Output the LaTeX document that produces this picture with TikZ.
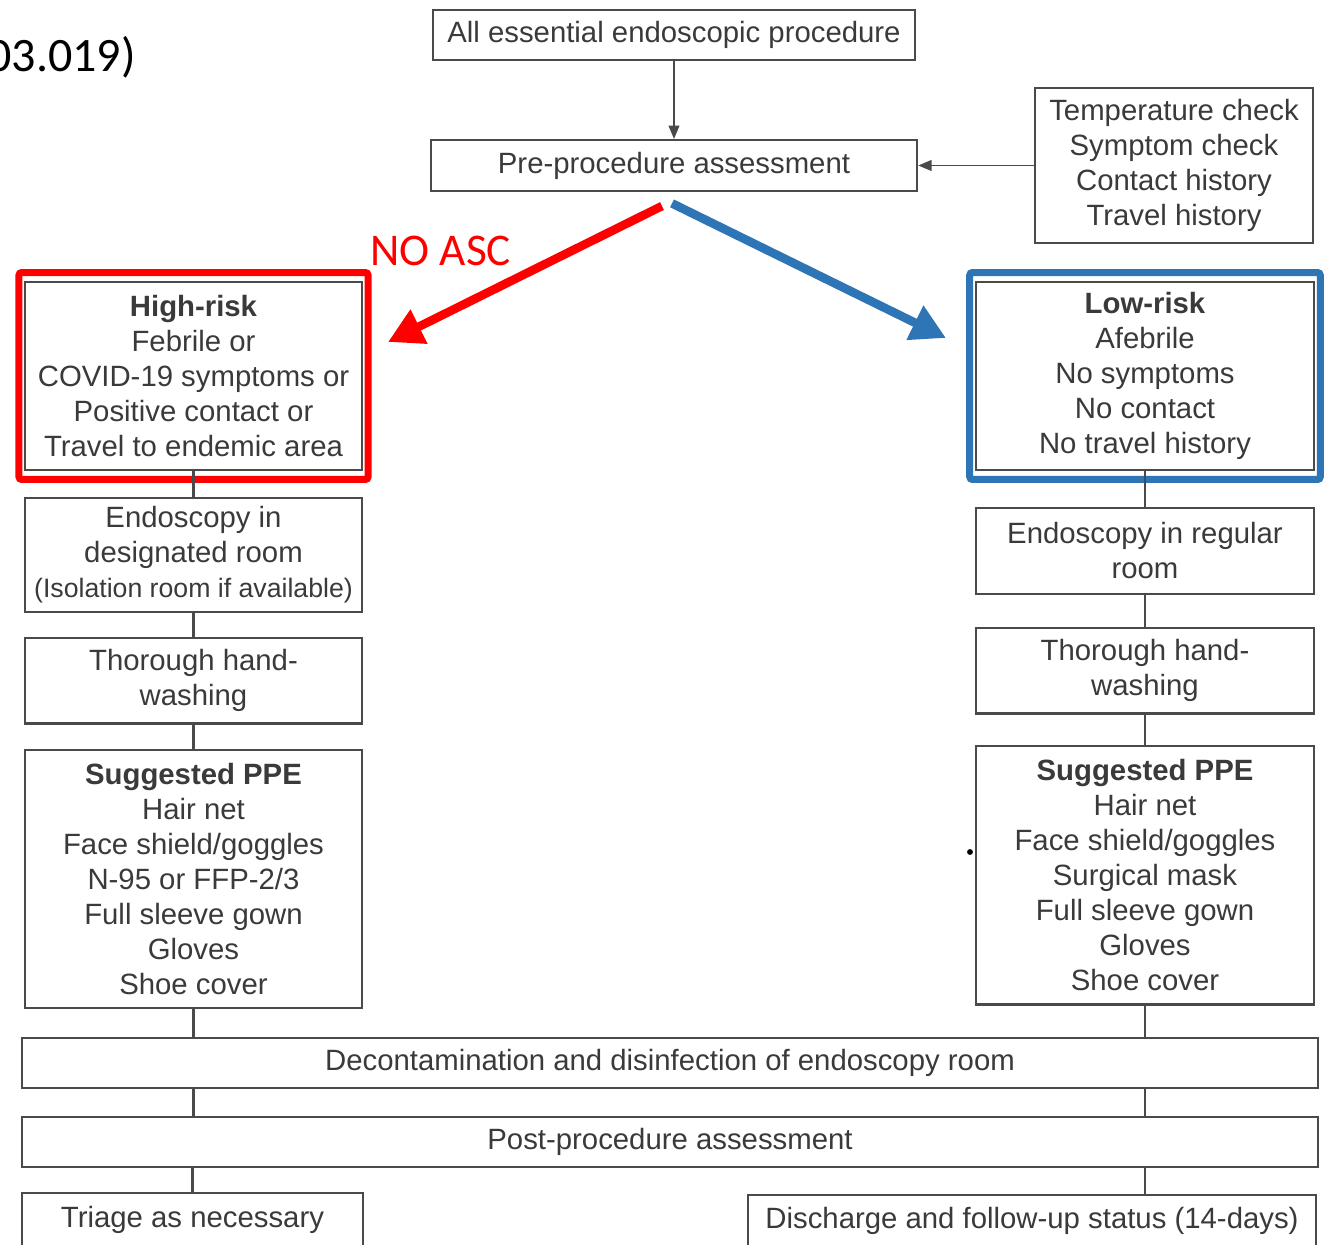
\documentclass[tikz,border=0pt]{standalone}
\usepackage{fontspec}
\setmainfont{Liberation Sans}
\newfontfamily\calibri{Carlito}
\usetikzlibrary{arrows.meta, positioning, calc, fit}
\definecolor{boxline}{HTML}{4A4A4A}
\definecolor{boxtext}{HTML}{3A3A3A}
\definecolor{riskred}{HTML}{FF0000}
\definecolor{riskblue}{HTML}{2E75B6}

\begin{document}
\begin{tikzpicture}[
    x=0.75pt, y=-0.75pt,
    box/.style={rectangle, draw=boxline, line width=1.8pt, align=center, text=boxtext, inner sep=0pt, font=\fontsize{22}{26.25}\selectfont},
    link/.style={draw=boxline, line width=1.6pt},
    arrow/.style={-{Triangle[length=10pt,width=8pt]}, draw=boxline, line width=1.4pt},
    riskframe/.style={draw, line width=5.25pt, rounded corners=2pt, inner sep=0pt},
    forkarrow/.style={line width=6.5pt, -{Triangle[length=26pt,width=27pt]}}
]
    \useasboundingbox (0,0) rectangle (1332,1245);
    \fill[white] (0,0) rectangle (1332,1245);

    % Top level
    \node[font=\calibri\fontsize{36}{40}\selectfont, anchor=base east, inner sep=0pt] (doitail) at (136,72) {03.019)};
    \node[box, minimum width=361.5pt, minimum height=37.5pt] (allproc) at (674,35) {All essential endoscopic procedure};
    \node[box, minimum width=364.5pt, minimum height=38pt] (preproc) at (674,165.5) {Pre-procedure assessment};
    \node[box, minimum width=208.5pt, minimum height=116pt] (checks) at (1174,165.5) {Temperature check\\Symptom check\\Contact history\\Travel history};

    % High-risk branch
    \node[box, minimum width=253pt, minimum height=141pt] (highrisk) at (193.5,376) {\textbf{High-risk}\\Febrile or\\COVID-19 symptoms or\\Positive contact or\\Travel to endemic area};
    \node[box, below=19.2pt of highrisk, minimum width=253pt, minimum height=85.5pt] (desigroom) {Endoscopy in\\designated room\\{\fontsize{20}{24}\selectfont (Isolation room if available)}};
    \node[box, below=17.7pt of desigroom, minimum width=253pt, minimum height=64pt] (lwash) {Thorough hand-\\washing};
    \node[box, below=18.2pt of lwash, minimum width=253pt, minimum height=193.5pt] (lppe) {\textbf{Suggested PPE}\\Hair net\\Face shield/goggles\\N-95 or FFP-2/3\\Full sleeve gown\\Gloves\\Shoe cover};

    % Low-risk branch
    \node[box, minimum width=253.5pt, minimum height=141pt] (lowrisk) at (1145,376) {\textbf{Low-risk}\\Afebrile\\No symptoms\\No contact\\No travel history};
    \node[box, below=26.7pt of lowrisk, minimum width=253.5pt, minimum height=64.5pt] (regroom) {Endoscopy in regular\\room};
    \node[box, below=23.7pt of regroom, minimum width=253.5pt, minimum height=64pt] (rwash) {Thorough hand-\\washing};
    \node[box, below=22.7pt of rwash, minimum width=253.5pt, minimum height=194pt] (rppe) {\textbf{Suggested PPE}\\Hair net\\Face shield/goggles\\Surgical mask\\Full sleeve gown\\Gloves\\Shoe cover};

    % Common steps
    \node[box, minimum width=972pt, minimum height=37.5pt] (decon) at (670,1063) {Decontamination and disinfection of endoscopy room};
    \node[box, minimum width=972pt, minimum height=37.5pt] (postproc) at (670,1142) {Post-procedure assessment};
    \node[box, minimum width=255.75pt, minimum height=40.5pt] (triage) at (192.5,1220) {Triage as necessary};
    \node[box, minimum width=426pt, minimum height=39pt] (discharge) at (1032,1221) {Discharge and follow-up status (14-days)};

    % Highlight frames
    \node[riskframe, draw=riskred, fit=(highrisk), inner xsep=3.5pt, inner ysep=6.2pt] (redframe) {};
    \node[riskframe, draw=riskblue, fit=(lowrisk), inner xsep=3.8pt, inner ysep=6.2pt] (blueframe) {};
    \node[font=\calibri\fontsize{34}{38}\selectfont, text=riskred, anchor=base west, inner sep=0pt] (noasc) at (370,265) {NO ASC};

    % Arrows
    \draw[arrow] (allproc) -- (preproc);
    \draw[arrow] (checks) -- (preproc);
    \coordinate (highend) at (388,342);
    \coordinate (lowend) at (946,338);
    \draw[forkarrow, riskred] ([xshift=-9pt,yshift=-10.5pt]preproc.south) -- (highend);
    \draw[forkarrow, riskblue] ([xshift=-1.5pt,yshift=-8.5pt]preproc.south) -- (lowend);

    % Links
    \draw[link] (highrisk) -- (desigroom);
    \draw[link] (desigroom) -- (lwash);
    \draw[link] (lwash) -- (lppe);
    \draw[link] (lowrisk) -- (regroom);
    \draw[link] (regroom) -- (rwash);
    \draw[link] (rwash) -- (rppe);
    \draw[link] (lppe.south) -- (decon.north -| lppe.south);
    \draw[link] (rppe.south) -- (decon.north -| rppe.south);
    \draw[link] (decon.south -| lppe.south) -- (postproc.north -| lppe.south);
    \draw[link] (decon.south -| rppe.south) -- (postproc.north -| rppe.south);
    \draw[link] (postproc.south -| triage.north) -- (triage.north);
    \draw[link] (postproc.south -| rppe.south) -- (discharge.north -| rppe.south);

    \fill[black] (970,852) circle (2.2pt);

\end{tikzpicture}
\end{document}
